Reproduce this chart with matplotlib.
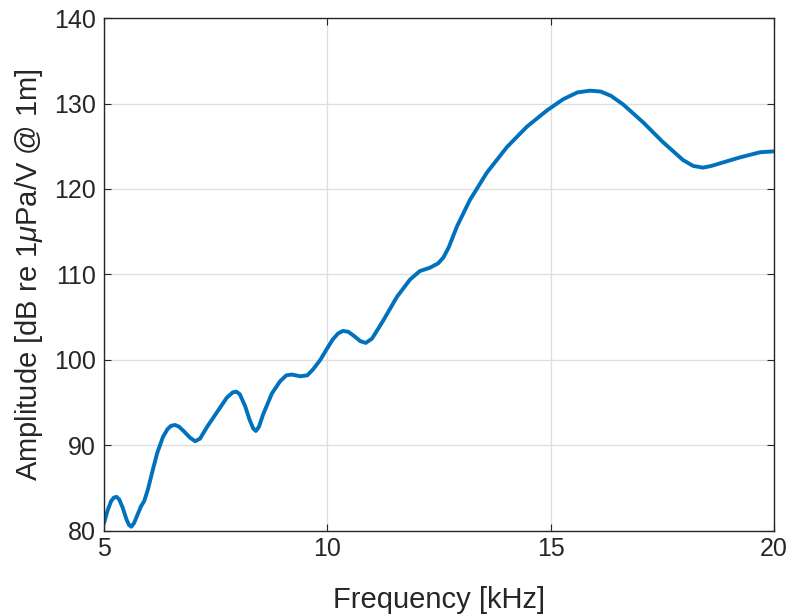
import matplotlib
matplotlib.use("Agg")
import matplotlib.pyplot as plt

freq_khz = [5.0, 5.08, 5.16, 5.22, 5.28, 5.34, 5.42, 5.5, 5.56, 5.61, 5.67, 5.75, 5.83, 5.9,
            5.98, 6.08, 6.19, 6.32, 6.42, 6.5, 6.59, 6.68, 6.8, 6.93, 7.04, 7.15, 7.31, 7.53,
            7.75, 7.88, 7.96, 8.04, 8.16, 8.26, 8.34, 8.4, 8.47, 8.56, 8.76, 8.94, 9.08, 9.2,
            9.39, 9.55, 9.68, 9.84, 9.99, 10.12, 10.24, 10.35, 10.47, 10.6, 10.74, 10.86, 11.0,
            11.25, 11.56, 11.85, 12.07, 12.3, 12.48, 12.6, 12.72, 12.9, 13.19, 13.57, 14.02,
            14.47, 14.92, 15.28, 15.6, 15.88, 16.12, 16.35, 16.62, 17.07, 17.51, 17.96, 18.19,
            18.41, 18.6, 18.79, 19.24, 19.69, 20.0]
amp_db = [80.9, 82.4, 83.5, 83.9, 84.0, 83.7, 82.7, 81.4, 80.7, 80.5, 80.9, 81.9, 82.9, 83.5,
          84.8, 86.9, 89.1, 91.0, 91.9, 92.3, 92.4, 92.2, 91.6, 90.9, 90.5, 90.8, 92.2, 93.9,
          95.6, 96.2, 96.3, 96.0, 94.6, 93.0, 92.0, 91.7, 92.2, 93.6, 96.1, 97.5, 98.2, 98.3,
          98.1, 98.2, 98.9, 100.0, 101.3, 102.4, 103.1, 103.4, 103.3, 102.8, 102.2, 102.0, 102.5,
          104.6, 107.4, 109.4, 110.4, 110.8, 111.3, 112.0, 113.2, 115.6, 118.7, 121.9, 124.9,
          127.3, 129.2, 130.5, 131.3, 131.5, 131.4, 130.9, 129.9, 127.8, 125.5, 123.4, 122.7,
          122.5, 122.7, 123.0, 123.7, 124.3, 124.4]

xticks = [5, 10, 15, 20]
yticks = [80, 90, 100, 110, 120, 130, 140]

plt.rcParams['font.family'] = ['Liberation Sans', 'DejaVu Sans']
plt.rcParams['mathtext.fontset'] = 'custom'
plt.rcParams['mathtext.it'] = 'Liberation Sans:italic'
plt.rcParams['mathtext.rm'] = 'Liberation Sans'

fig = plt.figure(figsize=(7.92, 6.15), dpi=100)
ax = fig.add_axes([104/792, 1-531/615, (774-104)/792, (531-18)/615])
ax.plot(freq_khz, amp_db, color='#0072BD', linewidth=2.8,
        solid_capstyle='round', solid_joinstyle='round')
ax.set_xlim(5, 20)
ax.set_ylim(80, 140)
ax.set_xticks(xticks)
ax.set_yticks(yticks)
ax.grid(True, color='#DEDEDE', linewidth=0.9)
ax.set_axisbelow(True)
for s in ax.spines.values():
    s.set_color('#262626')
    s.set_linewidth(1.0)
ax.tick_params(direction='in', length=5, width=0.8, colors='#262626',
               labelsize=18, top=True, right=True, pad=6)
ax.tick_params(axis='x', pad=4)
for lbl in ax.get_xticklabels() + ax.get_yticklabels():
    lbl.set_color('#262626')
ax.set_xlabel('Frequency [kHz]', fontsize=21, color='#262626', labelpad=18)
ax.set_ylabel(r'Amplitude [dB re 1$\mu$Pa/V @ 1m]', fontsize=21, color='#262626', labelpad=6)
fig.savefig('out.png', dpi=100)
